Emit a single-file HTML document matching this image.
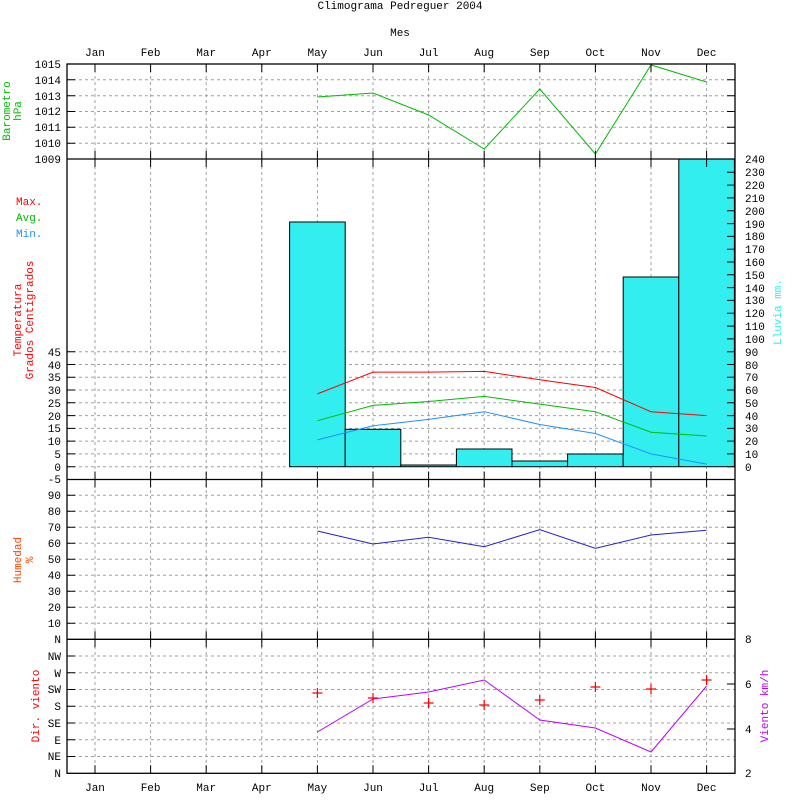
<!DOCTYPE html>
<html><head><meta charset="utf-8"><style>body{margin:0;background:#fff}svg{display:block}text{font-family:"Liberation Mono",monospace;font-size:11px}</style></head><body>
<svg width="800" height="800" xmlns="http://www.w3.org/2000/svg">
<rect width="800" height="800" fill="#fff"/>
<text x="400" y="9" text-anchor="middle">Climograma Pedreguer 2004</text>
<text x="400" y="36" text-anchor="middle">Mes</text>
<g text-anchor="middle">
<text x="95" y="56">Jan</text><text x="150.6" y="56">Feb</text><text x="206.2" y="56">Mar</text><text x="261.8" y="56">Apr</text><text x="317.4" y="56">May</text><text x="373" y="56">Jun</text><text x="428.6" y="56">Jul</text><text x="484.2" y="56">Aug</text><text x="539.8" y="56">Sep</text><text x="595.4" y="56">Oct</text><text x="651" y="56">Nov</text><text x="706.6" y="56">Dec</text>
<text x="95" y="791">Jan</text><text x="150.6" y="791">Feb</text><text x="206.2" y="791">Mar</text><text x="261.8" y="791">Apr</text><text x="317.4" y="791">May</text><text x="373" y="791">Jun</text><text x="428.6" y="791">Jul</text><text x="484.2" y="791">Aug</text><text x="539.8" y="791">Sep</text><text x="595.4" y="791">Oct</text><text x="651" y="791">Nov</text><text x="706.6" y="791">Dec</text>
</g>
<!-- grids -->
<g stroke="#a0a0a0" stroke-dasharray="3,3" stroke-width="1">
<path d="M95 64V773M150.6 64V773M206.2 64V773M261.8 64V773M317.4 64V773M373 64V773M428.6 64V773M484.2 64V773M539.8 64V773M595.4 64V773M651 64V773M706.6 64V773"/>
<path d="M67 143.2H735M67 127.3H735M67 111.5H735M67 95.7H735M67 79.8H735"/>
<path d="M67 466.7H735M67 453.9H735M67 441.1H735M67 428.4H735M67 415.6H735M67 402.8H735M67 390H735M67 377.2H735M67 364.5H735M67 351.7H735"/>
<path d="M67 623.3H735M67 607.3H735M67 591.3H735M67 575.3H735M67 559.3H735M67 543.3H735M67 527.3H735M67 511.3H735M67 495.3H735"/>
<path d="M67 656H735M67 672.8H735M67 689.5H735M67 706.3H735M67 723H735M67 739.8H735M67 756.5H735"/>
</g>
<!-- bars -->
<g fill="#33eeee" stroke="#000" stroke-width="1">
<rect x="289.6" y="222" width="55.6" height="244.7"/>
<rect x="345.2" y="429.3" width="55.6" height="37.4"/>
<rect x="400.8" y="465" width="55.6" height="1.7"/>
<rect x="456.4" y="449" width="55.6" height="17.7"/>
<rect x="512" y="461" width="55.6" height="5.7"/>
<rect x="567.6" y="454" width="55.6" height="12.7"/>
<rect x="623.2" y="277" width="55.6" height="189.7"/>
<rect x="678.8" y="159" width="55.6" height="307.7"/>
</g>
<!-- series -->
<g fill="none" stroke-width="1">
<polyline stroke="#00bb00" points="317.4,97 373,93 428.6,115 484.2,149 539.8,89 595.4,154 651,65 706.6,82"/>
<polyline stroke="#ff0000" points="317.4,393.9 373,372.1 428.6,372.1 484.2,371.4 539.8,379.8 595.4,387.5 651,411.7 706.6,415.6"/>
<polyline stroke="#00bb00" points="317.4,420.7 373,405.4 428.6,401.5 484.2,396.4 539.8,404.1 595.4,411.7 651,432.2 706.6,436"/>
<polyline stroke="#1e90ff" points="317.4,439.9 373,425.8 428.6,419.4 484.2,411.7 539.8,424.5 595.4,433.5 651,453.9 706.6,464.1"/>
<polyline stroke="#2222cc" points="317.4,531 373,544 428.6,537.3 484.2,546.7 539.8,529.7 595.4,548.3 651,535 706.6,530.3"/>
<polyline stroke="#bb00ff" points="317.4,732 373,699 428.6,692 484.2,680 539.8,720 595.4,728 651,752 706.6,686"/>
</g>
<g stroke="#ff0000" stroke-width="1.2">
<path d="M312.4 693h10M317.4 688v10M368 698h10M373 693v10M423.6 703h10M428.6 698v10M479.2 705h10M484.2 700v10M534.8 700h10M539.8 695v10M590.4 687h10M595.4 682v10M646 689h10M651 684v10M701.6 680h10M706.6 675v10"/>
</g>
<!-- frames -->
<g fill="none" stroke="#000" stroke-width="1.3">
<rect x="67" y="64" width="668" height="709.3"/>
<path d="M67 159H735M67 479.5H735M67 639.3H735"/>
</g>
<g stroke="#000" stroke-width="1">
<path d="M95 64v8M150.6 64v8M206.2 64v8M261.8 64v8M317.4 64v8M373 64v8M428.6 64v8M484.2 64v8M539.8 64v8M595.4 64v8M651 64v8M706.6 64v8
M95 159v-8M150.6 159v-8M206.2 159v-8M261.8 159v-8M317.4 159v-8M373 159v-8M428.6 159v-8M484.2 159v-8M539.8 159v-8M595.4 159v-8M651 159v-8M706.6 159v-8
M95 159v8M150.6 159v8M206.2 159v8M261.8 159v8M317.4 159v8M373 159v8M428.6 159v8M484.2 159v8M539.8 159v8M595.4 159v8M651 159v8M706.6 159v8
M95 479.5v-8M150.6 479.5v-8M206.2 479.5v-8M261.8 479.5v-8M317.4 479.5v-8M373 479.5v-8M428.6 479.5v-8M484.2 479.5v-8M539.8 479.5v-8M595.4 479.5v-8M651 479.5v-8M706.6 479.5v-8
M95 479.5v8M150.6 479.5v8M206.2 479.5v8M261.8 479.5v8M317.4 479.5v8M373 479.5v8M428.6 479.5v8M484.2 479.5v8M539.8 479.5v8M595.4 479.5v8M651 479.5v8M706.6 479.5v8
M95 639.3v-8M150.6 639.3v-8M206.2 639.3v-8M261.8 639.3v-8M317.4 639.3v-8M373 639.3v-8M428.6 639.3v-8M484.2 639.3v-8M539.8 639.3v-8M595.4 639.3v-8M651 639.3v-8M706.6 639.3v-8
M95 639.3v8M150.6 639.3v8M206.2 639.3v8M261.8 639.3v8M317.4 639.3v8M373 639.3v8M428.6 639.3v8M484.2 639.3v8M539.8 639.3v8M595.4 639.3v8M651 639.3v8M706.6 639.3v8
M95 773.3v-8M150.6 773.3v-8M206.2 773.3v-8M261.8 773.3v-8M317.4 773.3v-8M373 773.3v-8M428.6 773.3v-8M484.2 773.3v-8M539.8 773.3v-8M595.4 773.3v-8M651 773.3v-8M706.6 773.3v-8
M67 143.2h8M67 127.3h8M67 111.5h8M67 95.7h8M67 79.8h8M735 143.2h-8M735 127.3h-8M735 111.5h-8M735 95.7h-8M735 79.8h-8
M67 466.7h8M67 453.9h8M67 441.1h8M67 428.4h8M67 415.6h8M67 402.8h8M67 390h8M67 377.2h8M67 364.5h8M67 351.7h8
M735 466.7h-8M735 453.9h-8M735 441.1h-8M735 428.4h-8M735 415.6h-8M735 402.8h-8M735 390h-8M735 377.2h-8M735 364.5h-8M735 351.7h-8M735 338.9h-8M735 326.1h-8M735 313.3h-8M735 300.4h-8M735 287.6h-8M735 274.8h-8M735 262h-8M735 249.2h-8M735 236.4h-8M735 223.6h-8M735 210.8h-8M735 197.9h-8M735 185.1h-8M735 172.3h-8
M67 623.3h8M67 607.3h8M67 591.3h8M67 575.3h8M67 559.3h8M67 543.3h8M67 527.3h8M67 511.3h8M67 495.3h8
M735 623.3h-8M735 607.3h-8M735 591.3h-8M735 575.3h-8M735 559.3h-8M735 543.3h-8M735 527.3h-8M735 511.3h-8M735 495.3h-8
M67 656h8M67 672.8h8M67 689.5h8M67 706.3h8M67 723h8M67 739.8h8M67 756.5h8
M735 684h-8M735 729h-8"/>
</g>
<!-- left labels -->
<g text-anchor="end">
<text x="61" y="68">1015</text><text x="61" y="84">1014</text><text x="61" y="100">1013</text><text x="61" y="115">1012</text><text x="61" y="131">1011</text><text x="61" y="147">1010</text><text x="61" y="163">1009</text>
<text x="61" y="356">45</text><text x="61" y="369">40</text><text x="61" y="381">35</text><text x="61" y="394">30</text><text x="61" y="407">25</text><text x="61" y="420">20</text><text x="61" y="432">15</text><text x="61" y="445">10</text><text x="61" y="458">5</text><text x="61" y="471">0</text><text x="61" y="483">-5</text>
<text x="61" y="499">90</text><text x="61" y="515">80</text><text x="61" y="531">70</text><text x="61" y="547">60</text><text x="61" y="563">50</text><text x="61" y="579">40</text><text x="61" y="595">30</text><text x="61" y="611">20</text><text x="61" y="627">10</text><text x="61" y="643">N</text>
<text x="61" y="660">NW</text><text x="61" y="677">W</text><text x="61" y="693">SW</text><text x="61" y="710">S</text><text x="61" y="727">SE</text><text x="61" y="744">E</text><text x="61" y="760">NE</text><text x="61" y="777">N</text>
</g>
<!-- right labels -->
<g text-anchor="start">
<text x="745" y="163">240</text><text x="745" y="176">230</text><text x="745" y="189">220</text><text x="745" y="202">210</text><text x="745" y="215">200</text><text x="745" y="228">190</text><text x="745" y="240">180</text><text x="745" y="253">170</text><text x="745" y="266">160</text><text x="745" y="279">150</text><text x="745" y="292">140</text><text x="745" y="304">130</text><text x="745" y="317">120</text><text x="745" y="330">110</text><text x="745" y="343">100</text><text x="745" y="356">90</text><text x="745" y="369">80</text><text x="745" y="381">70</text><text x="745" y="394">60</text><text x="745" y="407">50</text><text x="745" y="420">40</text><text x="745" y="432">30</text><text x="745" y="445">20</text><text x="745" y="458">10</text><text x="745" y="471">0</text>
<text x="745" y="643">8</text><text x="745" y="688">6</text><text x="745" y="733">4</text><text x="745" y="777">2</text>
</g>
<text transform="translate(781,312) rotate(-90)" text-anchor="middle" fill="#33eeee">Lluvia mm.</text>
<text transform="translate(768,706) rotate(-90)" text-anchor="middle" fill="#bb00ff">Viento km/h</text>
<text transform="translate(10,111) rotate(-90)" text-anchor="middle" fill="#00bb00">Barometro</text>
<text transform="translate(21,111) rotate(-90)" text-anchor="middle" fill="#00bb00">hPa</text>
<text x="16" y="205" fill="#ff0000">Max.</text>
<text x="16" y="221" fill="#00bb00">Avg.</text>
<text x="16" y="237" fill="#1e90ff">Min.</text>
<text transform="translate(21,320) rotate(-90)" text-anchor="middle" fill="#ff0000">Temperatura</text>
<text transform="translate(33,320) rotate(-90)" text-anchor="middle" fill="#ff0000">Grados Centigrados</text>
<text transform="translate(21,560) rotate(-90)" text-anchor="middle" fill="#ff4400">Humedad</text>
<text transform="translate(33,560) rotate(-90)" text-anchor="middle" fill="#ff4400">%</text>
<text transform="translate(39,706) rotate(-90)" text-anchor="middle" fill="#ff0000">Dir. viento</text>
</svg>
</body></html>
